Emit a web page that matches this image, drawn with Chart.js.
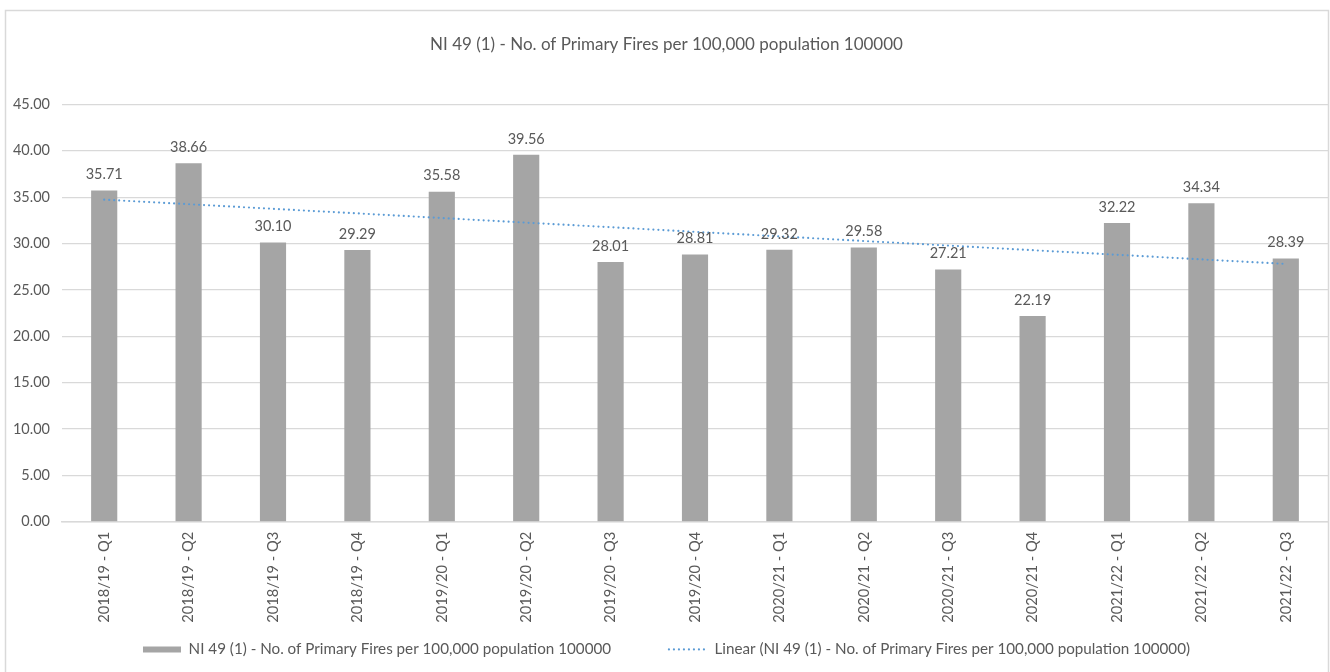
<!DOCTYPE html>
<html>
<head>
<meta charset="utf-8">
<script src="https://cdn.jsdelivr.net/npm/chart.js@4.4.1/dist/chart.umd.min.js"></script>
<style>
  html, body { margin: 0; padding: 0; background: #ffffff; }
  #wrap { width: 1330px; height: 672px; position: relative; }
</style>
</head>
<body>
<div id="wrap"><canvas id="c" width="1330" height="672"></canvas></div>
<script>
const categories = [
  "2018/19 - Q1", "2018/19 - Q2", "2018/19 - Q3", "2018/19 - Q4",
  "2019/20 - Q1", "2019/20 - Q2", "2019/20 - Q3", "2019/20 - Q4",
  "2020/21 - Q1", "2020/21 - Q2", "2020/21 - Q3", "2020/21 - Q4",
  "2021/22 - Q1", "2021/22 - Q2", "2021/22 - Q3"
];
const fireValues = [35.71, 38.66, 30.10, 29.29, 35.58, 39.56, 28.01, 28.81, 29.32, 29.58, 27.21, 22.19, 32.22, 34.34, 28.39];
const trendValues = [34.73, 34.24, 33.74, 33.25, 32.75, 32.25, 31.76, 31.26, 30.77, 30.27, 29.78, 29.28, 28.79, 28.29, 27.80];
const titleText = "NI 49 (1) - No. of Primary Fires per 100,000 population 100000";
const seriesName = "NI 49 (1) - No. of Primary Fires per 100,000 population 100000";
const trendName = "Linear (NI 49 (1) - No. of Primary Fires per 100,000 population 100000)";

const FONT = "Lato, 'Open Sans', sans-serif";
const TEXT = "#595959";
const GRID = "#d9d9d9";
const TREND = "#5B9BD5";

const frame = {
  id: 'frame',
  beforeDraw(chart) {
    const ctx = chart.ctx;
    ctx.save();
    ctx.fillStyle = '#ffffff';
    ctx.fillRect(0, 0, chart.width, chart.height);
    ctx.strokeStyle = GRID;
    ctx.lineWidth = 1.5;
    ctx.strokeRect(5.5, 10.5, 1323, 680);
    ctx.restore();
  }
};

const barLabels = {
  id: 'barLabels',
  afterDatasetsDraw(chart) {
    const ctx = chart.ctx;
    const meta = chart.getDatasetMeta(1);
    ctx.save();
    ctx.font = "14.5px " + FONT;
    ctx.fillStyle = TEXT;
    ctx.textAlign = 'center';
    ctx.textBaseline = 'middle';
    meta.data.forEach((bar, i) => {
      ctx.fillText(fireValues[i].toFixed(2), bar.x, bar.y - 16);
    });
    ctx.restore();
  }
};

new Chart(document.getElementById('c'), {
  type: 'bar',
  data: {
    labels: categories,
    datasets: [
      {
        type: 'line',
        label: trendName,
        data: trendValues,
        borderColor: TREND,
        backgroundColor: TREND,
        borderWidth: 2.2,
        borderDash: [0, 5],
        borderCapStyle: 'round',
        pointRadius: 0,
        fill: false,
        tension: 0,
        order: 0,
        pointStyle: 'line'
      },
      {
        type: 'bar',
        label: seriesName,
        data: fireValues,
        backgroundColor: '#A5A5A5',
        borderWidth: 0,
        barPercentage: 1,
        categoryPercentage: 0.31,
        order: 1,
        pointStyle: 'rect'
      }
    ]
  },
  options: {
    responsive: false,
    animation: false,
    devicePixelRatio: 1,
    layout: { padding: { left: 5, right: 2, top: 0, bottom: 5 } },
    plugins: {
      title: {
        display: true,
        text: titleText,
        color: TEXT,
        font: { family: FONT, size: 17, weight: 'normal' },
        padding: { top: 34, bottom: 50 }
      },
      legend: {
        display: true,
        position: 'bottom',
        reverse: true,
        labels: {
          color: TEXT,
          font: { family: FONT, size: 15.2 },
          usePointStyle: true,
          pointStyleWidth: 38,
          boxHeight: 6,
          padding: 19,
          generateLabels(chart) {
            const items = Chart.defaults.plugins.legend.labels.generateLabels(chart);
            items.forEach(it => {
              if (it.datasetIndex === 0) {
                it.lineDash = [0, 5];
                it.lineCap = 'round';
                it.lineWidth = 2.2;
                it.strokeStyle = TREND;
                it.pointStyle = 'line';
              } else {
                it.text = it.text + "\u00a0\u00a0\u00a0\u00a0\u00a0\u00a0\u00a0\u00a0\u00a0\u00a0";
                it.lineWidth = 0;
                it.strokeStyle = '#A5A5A5';
                it.fillStyle = '#A5A5A5';
                it.pointStyle = 'rect';
              }
            });
            return items;
          }
        }
      },
      tooltip: { enabled: false }
    },
    scales: {
      x: {
        offset: true,
        grid: { display: false, drawTicks: false },
        border: { display: true, color: GRID, width: 1.5 },
        ticks: {
          color: TEXT,
          font: { family: FONT, size: 14.7 },
          minRotation: 90,
          maxRotation: 90,
          padding: 10,
          autoSkip: false
        },
        afterFit(scale) { scale.height = 101; }
      },
      y: {
        min: 0,
        max: 45,
        grid: { color: GRID, lineWidth: 1.2, drawTicks: false },
        border: { display: false },
        ticks: {
          stepSize: 5,
          color: TEXT,
          font: { family: FONT, size: 14.5 },
          padding: 12,
          callback: (v) => Number(v).toFixed(2)
        },
        afterFit(scale) { scale.width = 57; }
      }
    }
  },
  plugins: [frame, barLabels]
});
</script>
</body>
</html>
